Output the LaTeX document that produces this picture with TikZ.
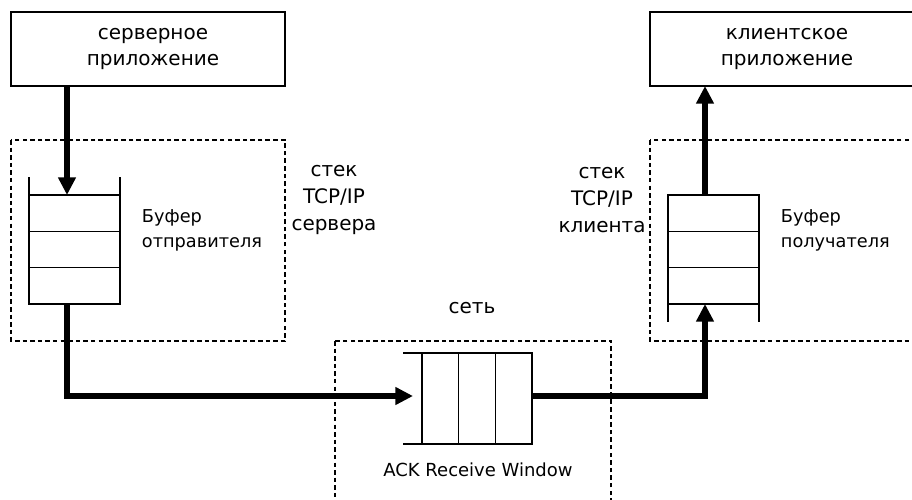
\documentclass[tikz,border=0pt]{standalone}
\usepackage{fontspec}
\setmainfont{DejaVu Sans}
\usetikzlibrary{arrows.meta,positioning}

\begin{document}
\begin{tikzpicture}[x=0.025cm,y=-0.025cm,
  app/.style={draw,line width=1pt,minimum width=6.85cm,minimum height=1.85cm,
    inner sep=0pt,outer sep=0pt,align=center,font=\fontsize{14.2}{18.8}\selectfont},
  cell/.style={draw,line width=0.9pt,minimum width=2.275cm,minimum height=0.908cm,
    inner sep=0pt,outer sep=0pt},
  wcell/.style={draw,line width=0.9pt,minimum width=0.917cm,minimum height=2.275cm,
    inner sep=0pt,outer sep=0pt},
  stackbox/.style={draw,line width=0.8pt,dash pattern=on 3.2pt off 2.2pt},
  lbl/.style={align=center,font=\fontsize{14.2}{19.5}\selectfont},
  buflbl/.style={anchor=west,align=left,font=\fontsize{12.6}{17.8}\selectfont},
  flow/.style={line width=3.6pt,-{Triangle[length=12.5pt,width=12pt]}}]
\useasboundingbox (0,0) rectangle (912,499);
\clip (0,0) rectangle (912,499);

\draw[stackbox] (11,140) rectangle (285,341);
\draw[stackbox] (650,140) rectangle (924,341);
\draw[stackbox] (335,341) rectangle (611,542);

\node[app] (srvapp) at (148,49) {\hspace*{7pt}серверное\\\hspace*{7pt}приложение};
\node[app] (cliapp) at (787,49) {клиентское\\приложение};

\node[lbl] (srvstack) at (334,200) {стек\\TCP/IP\\сервера};
\node[lbl] (clistack) at (602,200) {стек\\TCP/IP\\клиента};
\node[lbl] (net) at (472,308) {сеть};

% sender buffer, open at the top
\foreach \i in {1,2,3}
  \node[cell] (sb\i) at (74.5,{195+36.33*(\i-0.5)}) {};
\draw[line width=0.9pt] (sb1.north west) -- ++(0,-18);
\draw[line width=0.9pt] (sb1.north east) -- ++(0,-18);
\node[buflbl] (sblbl) at (137,230) {Буфер\\отправителя};

% receiver buffer, open at the bottom
\foreach \i in {1,2,3}
  \node[cell] (rb\i) at (713.5,{195+36.33*(\i-0.5)}) {};
\draw[line width=0.9pt] (rb3.south west) -- ++(0,18);
\draw[line width=0.9pt] (rb3.south east) -- ++(0,18);
\node[buflbl] (rblbl) at (776,230) {Буфер\\получателя};

% receive window, open at the left
\foreach \i in {1,2,3}
  \node[wcell] (nw\i) at ({422+36.67*(\i-0.5)},398.5) {};
\draw[line width=0.9pt] (nw1.north west) -- ++(-19,0);
\draw[line width=0.9pt] (nw1.south west) -- ++(-19,0);
\node[font=\fontsize{12.8}{15}\selectfont] (ack) at (478,470) {ACK Receive Window};

\coordinate (s) at (67,0);
\coordinate (r) at (705,0);
\coordinate (nwin) at (413,396);

\draw[flow] (srvapp.south -| s) -- (sb1.north -| s);
\draw[flow] (sb3.south -| s) |- (nwin);
\draw[flow] (nw3.east |- nwin) -| (rb3.south -| r);
\draw[flow] (rb1.north -| r) -- (cliapp.south -| r);
\end{tikzpicture}
\end{document}
